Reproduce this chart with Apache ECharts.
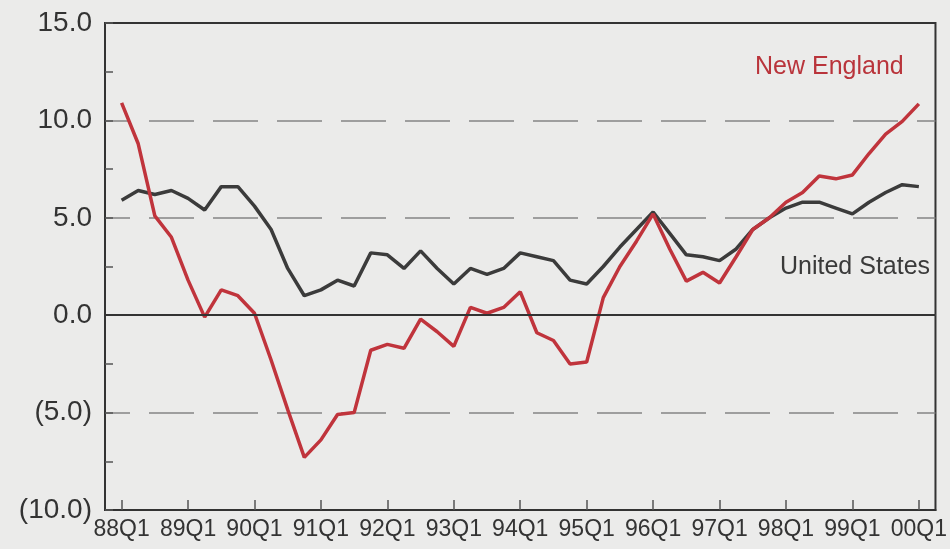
<!DOCTYPE html>
<html>
<head>
<meta charset="utf-8">
<script src="https://cdn.jsdelivr.net/npm/echarts@6/dist/echarts.min.js"></script>
<style>
  html, body { margin: 0; padding: 0; background: #ebebea; }
  #chart { width: 950px; height: 549px; }
</style>
</head>
<body>
<div id="chart"></div>
<script>
// Quarterly categories 88Q1 .. 00Q1
const quarters = [
  '88Q1','88Q2','88Q3','88Q4','89Q1','89Q2','89Q3','89Q4',
  '90Q1','90Q2','90Q3','90Q4','91Q1','91Q2','91Q3','91Q4',
  '92Q1','92Q2','92Q3','92Q4','93Q1','93Q2','93Q3','93Q4',
  '94Q1','94Q2','94Q3','94Q4','95Q1','95Q2','95Q3','95Q4',
  '96Q1','96Q2','96Q3','96Q4','97Q1','97Q2','97Q3','97Q4',
  '98Q1','98Q2','98Q3','98Q4','99Q1','99Q2','99Q3','99Q4',
  '00Q1'
];
// New England
const newEngland = [
  10.9, 8.8, 5.1, 4.0, 1.8, -0.1, 1.3, 1.0,
  0.1, -2.3, -4.85, -7.3, -6.4, -5.1, -5.0, -1.8,
  -1.5, -1.7, -0.2, -0.85, -1.6, 0.4, 0.1, 0.4,
  1.2, -0.9, -1.3, -2.5, -2.4, 0.9, 2.5, 3.8,
  5.2, 3.4, 1.75, 2.2, 1.65, 3.0, 4.4, 5.0,
  5.8, 6.3, 7.15, 7.0, 7.2, 8.3, 9.3, 9.95,
  10.85
];
// United States
const unitedStates = [
  5.9, 6.4, 6.2, 6.4, 6.0, 5.4, 6.6, 6.6,
  5.6, 4.4, 2.4, 1.0, 1.3, 1.8, 1.5, 3.2,
  3.1, 2.4, 3.3, 2.4, 1.6, 2.4, 2.1, 2.4,
  3.2, 3.0, 2.8, 1.8, 1.6, 2.5, 3.5, 4.4,
  5.3, 4.2, 3.1, 3.0, 2.8, 3.4, 4.4, 5.0,
  5.5, 5.8, 5.8, 5.5, 5.2, 5.8, 6.3, 6.7,
  6.6
];
const yTicks = { min: -10, max: 15, interval: 5 };
const padBefore = '87Q4', padAfter = '00Q2';

const cats = [padBefore].concat(quarters, [padAfter]);
const pad = arr => [null].concat(arr, [null]);
const isQ1 = (idx, val) => /Q1$/.test(val) && val !== padBefore && val !== padAfter;
const FONT = '"Liberation Sans", Arial, Helvetica, sans-serif';

const chart = echarts.init(document.getElementById('chart'), null, { renderer: 'canvas' });
chart.setOption({
  backgroundColor: '#ebebea',
  animation: false,
  grid: {
    left: 105, right: 10, top: 23, bottom: 39,
    show: true, borderColor: '#333', borderWidth: 2, backgroundColor: 'transparent'
  },
  xAxis: {
    type: 'category',
    data: cats,
    boundaryGap: false,
    axisLine: { onZero: false, lineStyle: { color: '#333', width: 2 } },
    axisTick: { show: true, inside: true, length: 10, interval: isQ1, lineStyle: { color: '#555', width: 1.5 } },
    axisLabel: { interval: isQ1, color: '#333', fontSize: 23, fontFamily: FONT, margin: 8 },
    splitLine: { show: false }
  },
  yAxis: {
    type: 'value',
    min: yTicks.min, max: yTicks.max, interval: yTicks.interval,
    axisLine: { show: true, lineStyle: { color: '#333', width: 2 } },
    axisTick: { show: true, inside: true, length: 8, lineStyle: { color: '#555', width: 1.5 } },
    minorTick: { show: true, splitNumber: 2, length: 8, lineStyle: { color: '#555', width: 1.5 } },
    axisLabel: {
      color: '#333', fontSize: 28, fontFamily: FONT, margin: 13,
      formatter: v => v < 0 ? '(' + Math.abs(v).toFixed(1) + ')' : v.toFixed(1)
    },
    splitLine: {
      show: true, showMinLine: false, showMaxLine: false,
      lineStyle: { color: '#858585', width: 1.5, type: [45, 19], dashOffset: 20 }
    }
  },
  series: [
    {
      name: 'United States', type: 'line', data: pad(unitedStates),
      symbol: 'none', lineStyle: { color: '#3b3b3b', width: 3.5 }, z: 3,
      markLine: {
        silent: true, symbol: 'none', label: { show: false },
        lineStyle: { type: 'solid', color: '#333', width: 2 },
        data: [{ yAxis: 0 }]
      }
    },
    {
      name: 'New England', type: 'line', data: pad(newEngland),
      symbol: 'none', lineStyle: { color: '#c0343c', width: 3.5 }, z: 4
    }
  ],
  graphic: [
    { type: 'text', left: 755, top: 55, style: { text: 'New England', fill: '#b9343b', font: '25px ' + FONT } },
    { type: 'text', left: 780, top: 255, style: { text: 'United States', fill: '#3a3a3a', font: '25px ' + FONT } }
  ]
});
</script>
</body>
</html>
